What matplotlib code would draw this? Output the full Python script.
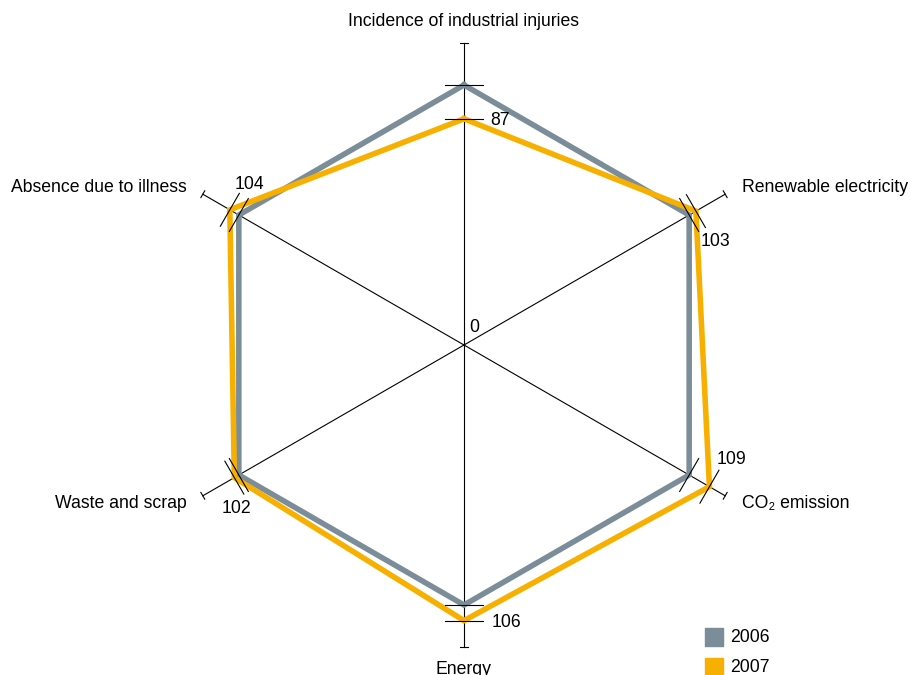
import numpy as np
import matplotlib
matplotlib.use("Agg")
import matplotlib.pyplot as plt

plt.rcParams['font.family'] = ['Liberation Sans', 'DejaVu Sans']

categories = ["Incidence of industrial injuries", "Renewable electricity",
              "CO\u2082 emission", "Energy", "Waste and scrap",
              "Absence due to illness"]
series_2006 = [100, 100, 100, 100, 100, 100]
series_2007 = [87, 103, 109, 106, 102, 104]
series_names = ["2006", "2007"]
colors = ["#7b8d99", "#f7b000"]

AXIS_MAX = 116
PX = 2.6  # pixels per value unit
W, H = 910, 675
CX, CY = 464, 345
FS = 12.7

fig = plt.figure(figsize=(W / 100, H / 100), dpi=100)
ax = fig.add_axes([0, 0, 1, 1])
ax.set_xlim(-CX / PX, (W - CX) / PX)
ax.set_ylim(-(H - CY) / PX, CY / PX)
ax.axis("off")

angles = np.deg2rad(90 - 60 * np.arange(len(categories)))
ux, uy = np.cos(angles), np.sin(angles)
px_, py_ = -uy, ux  # perpendicular directions

# spokes with small end caps
for i in range(len(categories)):
    ax.plot([0, AXIS_MAX * ux[i]], [0, AXIS_MAX * uy[i]], color="black", lw=0.8, zorder=1)
    ex, ey = AXIS_MAX * ux[i], AXIS_MAX * uy[i]
    c = 1.5
    ax.plot([ex - c * px_[i], ex + c * px_[i]], [ey - c * py_[i], ey + c * py_[i]],
            color="black", lw=0.8, zorder=1)

# series polygons
for vals, col, z in zip([series_2006, series_2007], colors, [3, 4]):
    v = np.array(vals + vals[:1], dtype=float)
    a = np.concatenate([angles, angles[:1]])
    ax.plot(v * np.cos(a), v * np.sin(a), color=col, lw=4.0, zorder=z,
            solid_joinstyle="miter")

# tick marks at each value
half = 7.3
for vals in [series_2006, series_2007]:
    for i, v in enumerate(vals):
        x0, y0 = v * ux[i], v * uy[i]
        ax.plot([x0 - half * px_[i], x0 + half * px_[i]],
                [y0 - half * py_[i], y0 + half * py_[i]],
                color="black", lw=0.8, zorder=5)

# value labels for 2007
label_offsets = [(36, -1.5), (20, -30.5), (22, 27.5), (42, -1.5), (2, -30.5), (20, 25.5)]
for i, v in enumerate(series_2007):
    ax.annotate(str(v), (v * ux[i], v * uy[i]), xytext=label_offsets[i],
                textcoords="offset pixels", ha="center", va="center",
                fontsize=FS, zorder=6)

ax.annotate("0", (0, 0), xytext=(10, 17.5), textcoords="offset pixels",
            ha="center", va="center", fontsize=FS)

# category labels
cat_pos = [((0, 323), "center"), ((278, 157), "left"), ((278, -158), "left"),
           ((0, -324), "center"), ((-277, -158), "right"), ((-277, 157), "right")]
for name, ((dx, dy), ha) in zip(categories, cat_pos):
    ax.annotate(name, (0, 0), xytext=(dx, dy), textcoords="offset pixels",
                ha=ha, va="center", fontsize=FS)

# legend
for k, (name, col) in enumerate(zip(series_names, colors)):
    yk = -(637 + 30 * k - CY) / PX
    ax.scatter([(714 - CX) / PX], [yk], marker="s", s=150, color=col, zorder=6)
    ax.text((730 - CX) / PX, yk, name, ha="left", va="center", fontsize=FS)

fig.savefig("out.png", dpi=100)
